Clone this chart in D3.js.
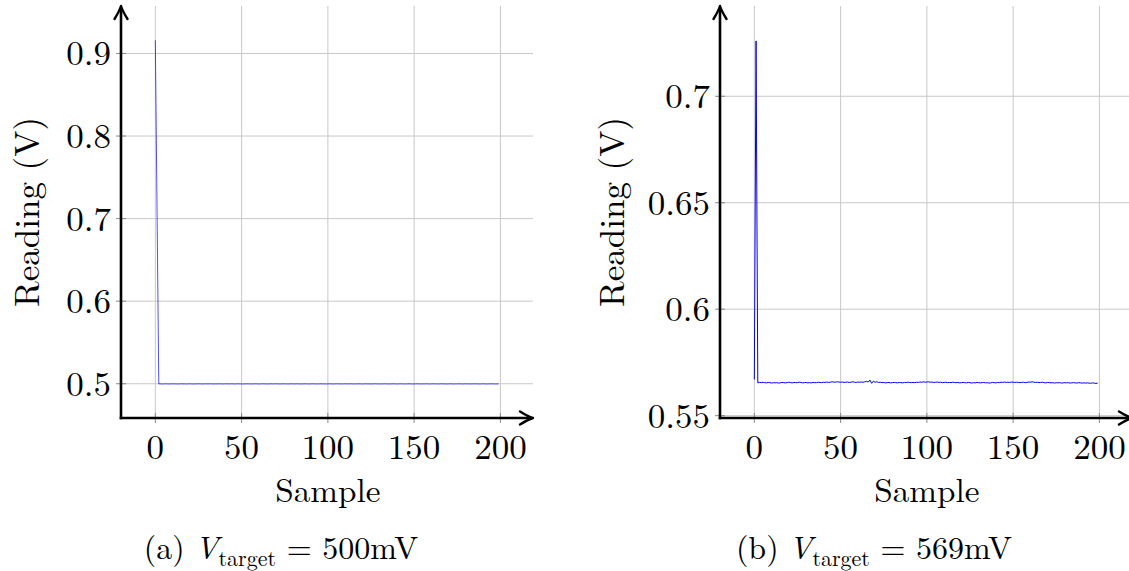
<!DOCTYPE html>
<html><head><meta charset="utf-8">
<script src="https://cdn.jsdelivr.net/npm/d3@7"></script>
<style>
html,body{margin:0;padding:0;background:#fff;}
svg{display:block;}
text{font-family:"Latin Modern Roman","CMU Serif","Liberation Serif",serif;fill:#000;}
</style></head>
<body><svg id="c" width="1129" height="571"></svg>
<script>
// ---- data ----
const xTicks = [0, 50, 100, 150, 200];
const yTicksA = [0.5, 0.6, 0.7, 0.8, 0.9];
const yTickLabelsA = ["0.5", "0.6", "0.7", "0.8", "0.9"];
const yTicksB = [0.55, 0.6, 0.65, 0.7];
const yTickLabelsB = ["0.55", "0.6", "0.65", "0.7"];
const xLabel = "Sample";
const yLabel = "Reading (V)";
const captionA = ["(a)", "V", "target", " = 500mV"];
const captionB = ["(b)", "V", "target", " = 569mV"];

const readingsA = [0.916, 0.708,
0.4999,0.4998,0.4997,0.4998,0.4999,0.4998,0.4997,0.4998,0.4999,0.4998,
0.4998,0.4997,0.4998,0.4999,0.4998,0.4998,0.4997,0.4998,0.4999,0.4998,
0.4997,0.4998,0.4998,0.4999,0.4998,0.4997,0.4998,0.4999,0.4998,0.4998,
0.4999,0.4998,0.4997,0.4998,0.4998,0.4999,0.4998,0.4997,0.4998,0.4999,
0.4998,0.4998,0.4999,0.4998,0.4997,0.4998,0.4999,0.4998,0.4998,0.4997,
0.4998,0.4999,0.4998,0.4998,0.4997,0.4998,0.4999,0.4998,0.4997,0.4998,
0.4999,0.4998,0.4998,0.4997,0.4998,0.4999,0.4998,0.4998,0.4999,0.4998,
0.4997,0.4998,0.4999,0.4998,0.4998,0.4997,0.4998,0.4999,0.4998,0.4998,
0.4999,0.4998,0.4997,0.4998,0.4998,0.4999,0.4998,0.4997,0.4998,0.4999,
0.4998,0.4998,0.4997,0.4998,0.4999,0.4998,0.4998,0.4997,0.4998,0.4999,
0.4998,0.4997,0.4998,0.4999,0.4998,0.4998,0.4997,0.4998,0.4999,0.4998,
0.4998,0.4999,0.4998,0.4997,0.4998,0.4998,0.4999,0.4998,0.4997,0.4998,
0.4999,0.4998,0.4998,0.4997,0.4998,0.4999,0.4998,0.4998,0.4997,0.4998,
0.4998,0.4999,0.4998,0.4997,0.4998,0.4998,0.4999,0.4998,0.4997,0.4998,
0.4999,0.4998,0.4998,0.4997,0.4998,0.4999,0.4998,0.4997,0.4998,0.4998,
0.4999,0.4998,0.4997,0.4998,0.4998,0.4999,0.4998,0.4997,0.4998,0.4999,
0.4998,0.4998,0.4997,0.4998,0.4999,0.4998,0.4998,0.4997,0.4998,0.4999,
0.4998,0.4997,0.4998,0.4998,0.4999,0.4998,0.4997,0.4998,0.4999,0.4998,
0.4998,0.4997,0.4998,0.4999,0.4998,0.4998,0.4997,0.4998,0.4999,0.4998,
0.4997,0.4998,0.4998,0.4999,0.4998,0.4997,0.4998,0.4998];

const readingsB = [0.567, 0.726,
0.5654,0.5656,0.5655,0.5657,0.5655,0.5654,0.5656,0.5655,0.5653,0.5655,
0.5654,0.5655,0.5653,0.5654,0.5656,0.5655,0.5654,0.5655,0.5657,0.5655,
0.5654,0.5656,0.5655,0.5655,0.5657,0.5656,0.5654,0.5655,0.5656,0.5654,
0.5655,0.5654,0.5656,0.5655,0.5655,0.5657,0.5656,0.5655,0.5657,0.5656,
0.5658,0.5656,0.5657,0.5659,0.5658,0.5657,0.5659,0.5658,0.5657,0.5658,
0.5656,0.5657,0.5658,0.5656,0.5657,0.5659,0.5657,0.5656,0.5658,0.5657,
0.5658,0.5657,0.5659,0.5661,0.5658,0.5667,0.5652,0.5662,0.5657,0.5659,
0.5656,0.5657,0.5655,0.5656,0.5654,0.5655,0.5656,0.5654,0.5655,0.5656,
0.5655,0.5654,0.5656,0.5655,0.5654,0.5656,0.5655,0.5657,0.5656,0.5655,
0.5656,0.5655,0.5657,0.5656,0.5658,0.5657,0.5659,0.5657,0.5658,0.5659,
0.5657,0.5658,0.5656,0.5657,0.5658,0.5656,0.5657,0.5655,0.5656,0.5657,
0.5655,0.5656,0.5655,0.5657,0.5656,0.5655,0.5656,0.5654,0.5655,0.5656,
0.5655,0.5654,0.5656,0.5655,0.5653,0.5655,0.5654,0.5656,0.5655,0.5654,
0.5655,0.5656,0.5654,0.5655,0.5653,0.5654,0.5656,0.5655,0.5654,0.5656,
0.5655,0.5657,0.5656,0.5658,0.5656,0.5657,0.5656,0.5658,0.5657,0.5656,
0.5657,0.5656,0.5655,0.5656,0.5657,0.5655,0.5656,0.5658,0.5657,0.5659,
0.5657,0.5656,0.5657,0.5655,0.5656,0.5657,0.5655,0.5654,0.5656,0.5655,
0.5654,0.5655,0.5653,0.5655,0.5654,0.5655,0.5653,0.5654,0.5655,0.5654,
0.5655,0.5653,0.5654,0.5655,0.5654,0.5653,0.5655,0.5654,0.5653,0.5654,
0.5653,0.5654,0.5653,0.5652,0.5654,0.5653,0.5651,0.5653];

// ---- drawing ----
const svg = d3.select("#c");
const FS = 35;

function drawPanel(cfg) {
  const {left, top, width, height, yDomain, yTicks, yTickLabels, data, caption, lw, ylabX, capX} = cfg;
  const x = d3.scaleLinear().domain([-19.9, 218.9]).range([left, left + width]);
  const y = d3.scaleLinear().domain(yDomain).range([top + height, top]);
  const g = svg.append("g");
  const bottom = top + height;

  // grid
  g.append("g").selectAll("line").data(xTicks).join("line")
    .attr("x1", d => x(d)).attr("x2", d => x(d)).attr("y1", top).attr("y2", bottom)
    .attr("stroke", "#c8c8c8").attr("stroke-width", 1);
  g.append("g").selectAll("line").data(yTicks).join("line")
    .attr("y1", d => y(d)).attr("y2", d => y(d)).attr("x1", left).attr("x2", left + width)
    .attr("stroke", "#c8c8c8").attr("stroke-width", 1);

  // tick marks
  g.append("g").selectAll("line").data(xTicks).join("line")
    .attr("x1", d => x(d)).attr("x2", d => x(d)).attr("y1", bottom - 5).attr("y2", bottom + 5)
    .attr("stroke", "#8a8a8a").attr("stroke-width", 1);
  g.append("g").selectAll("line").data(yTicks).join("line")
    .attr("y1", d => y(d)).attr("y2", d => y(d)).attr("x1", left - 5).attr("x2", left + 5)
    .attr("stroke", "#8a8a8a").attr("stroke-width", 1);

  // data line
  const line = d3.line().x((d, i) => x(i)).y(d => y(d));
  g.append("path").datum(data).attr("d", line)
    .attr("fill", "none").attr("stroke", "#0000ff").attr("stroke-width", lw)
    .attr("stroke-linejoin", "round");

  // axes
  g.append("line").attr("x1", left).attr("x2", left).attr("y1", bottom + 1.3).attr("y2", top + 2)
    .attr("stroke", "#000").attr("stroke-width", 2.6);
  g.append("line").attr("x1", left - 1.3).attr("x2", left + width - 2).attr("y1", bottom).attr("y2", bottom)
    .attr("stroke", "#000").attr("stroke-width", 2.6);
  // arrowheads (LaTeX-style)
  g.append("path").attr("d", `M${left - 6.5},${top + 13} Q${left - 1.5},${top + 5} ${left},${top} Q${left + 1.5},${top + 5} ${left + 6.5},${top + 13}`)
    .attr("fill", "none").attr("stroke", "#000").attr("stroke-width", 2.4).attr("stroke-linecap", "round").attr("stroke-linejoin", "round");
  const xr = left + width;
  g.append("path").attr("d", `M${xr - 13},${bottom - 6.5} Q${xr - 5},${bottom - 1.5} ${xr},${bottom} Q${xr - 5},${bottom + 1.5} ${xr - 13},${bottom + 6.5}`)
    .attr("fill", "none").attr("stroke", "#000").attr("stroke-width", 2.4).attr("stroke-linecap", "round").attr("stroke-linejoin", "round");

  // tick labels
  g.append("g").selectAll("text").data(xTicks).join("text")
    .attr("x", d => x(d)).attr("y", bottom + 41).attr("text-anchor", "middle")
    .attr("font-size", FS).text(d => d);
  g.append("g").selectAll("text").data(yTicks).join("text")
    .attr("x", left - 10).attr("y", d => y(d) + 12).attr("text-anchor", "end")
    .attr("font-size", FS).text((d, i) => yTickLabels[i]);

  // axis labels
  g.append("text").attr("x", x(100)).attr("y", bottom + 84).attr("text-anchor", "middle")
    .attr("font-size", FS * 0.95).text(xLabel);
  g.append("text").attr("transform", `translate(${ylabX},${(top + bottom) / 2}) rotate(-90)`)
    .attr("text-anchor", "middle").attr("font-size", FS).text(yLabel);

  // caption
  const t = g.append("text").attr("x", capX).attr("y", 559).attr("text-anchor", "middle").attr("font-size", 32);
  t.append("tspan").text(caption[0]);
  t.append("tspan").attr("dx", 10).attr("font-style", "italic").text(caption[1]);
  t.append("tspan").attr("font-size", 22).attr("dy", 7).text(caption[2]);
  t.append("tspan").attr("dy", -7).text(caption[3]);
}

drawPanel({left: 121, top: 6, width: 412, height: 412, yDomain: [0.4585, 0.9575],
  yTicks: yTicksA, yTickLabels: yTickLabelsA, data: readingsA, caption: captionA, lw: 0.7, ylabX: 39, capX: 281});
drawPanel({left: 720, top: 6, width: 412, height: 412, yDomain: [0.5489, 0.7424],
  yTicks: yTicksB, yTickLabels: yTickLabelsB, data: readingsB, caption: captionB, lw: 1, ylabX: 624, capX: 874});
</script></body></html>
